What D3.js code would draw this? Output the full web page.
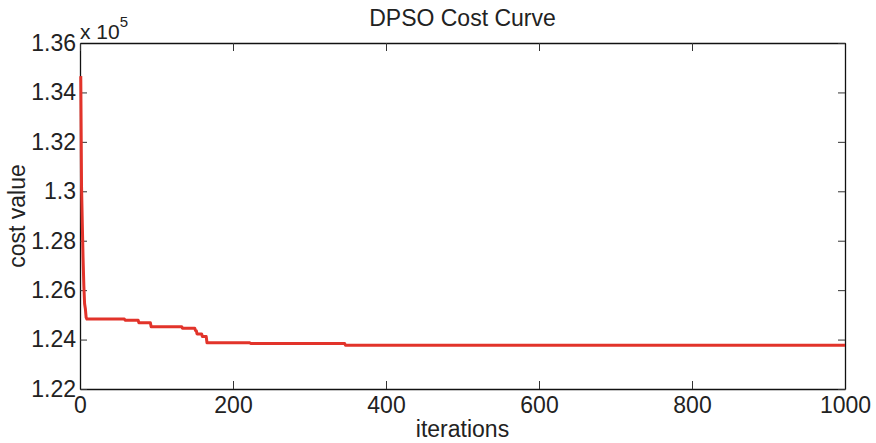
<!DOCTYPE html>
<html>
<head>
<meta charset="utf-8">
<script src="https://cdn.jsdelivr.net/npm/d3@7"></script>
<style>
  body { margin: 0; background: #fff; }
  text { font-family: "Liberation Sans", Arial, Helvetica, sans-serif; fill: #222; }
</style>
</head>
<body>
<div id="chart"></div>
<script>
var svgWidth = 876;
var svgHeight = 443;

var margin = { top: 43, right: 31, bottom: 54, left: 80 };
var width = svgWidth - margin.left - margin.right;
var height = svgHeight - margin.top - margin.bottom;

// data (change points of the best cost)
var iterations = [1, 2, 3, 4, 5, 6, 7, 8, 9,
  58, 59, 76, 77, 92, 93, 133, 134, 150, 151, 152, 153,
  159, 160, 165, 166, 222, 223, 346, 347, 1000];
var costs = [134660, 130200, 128700, 127300, 126200, 125450, 125250, 124900, 124830,
  124830, 124780, 124780, 124680, 124680, 124520, 124520, 124460, 124460, 124360, 124360, 124230,
  124230, 124120, 124120, 123870, 123870, 123840, 123840, 123770, 123770];

var xTicks = [0, 200, 400, 600, 800, 1000];
var yTicks = [122000, 124000, 126000, 128000, 130000, 132000, 134000, 136000];

var svg = d3.select("#chart")
  .append("svg")
  .attr("width", svgWidth)
  .attr("height", svgHeight);

var chartGroup = svg.append("g")
  .attr("transform", `translate(${margin.left}, ${margin.top})`);

var xScale = d3.scaleLinear().domain([0, 1000]).range([0, width]);
var yScale = d3.scaleLinear().domain([122000, 136000]).range([height, 0]);

var fmt = function(d) { return d3.format(".3~f")(d / 1e5); };

// axes: ticks point inward, box drawn on all four sides
var bottomAxis = d3.axisBottom(xScale).tickValues(xTicks).tickFormat(d3.format("d"))
  .tickSizeInner(-8).tickSizeOuter(0).tickPadding(8);
var leftAxis = d3.axisLeft(yScale).tickValues(yTicks).tickFormat(fmt)
  .tickSizeInner(-7).tickSizeOuter(0).tickPadding(4);
var topAxis = d3.axisTop(xScale).tickValues(xTicks).tickSizeInner(-8).tickSizeOuter(0).tickFormat("");
var rightAxis = d3.axisRight(yScale).tickValues(yTicks).tickSizeInner(-7).tickSizeOuter(0).tickFormat("");

function styleAxis(g) {
  g.select(".domain").attr("stroke", "#111").attr("stroke-width", 1.3);
  g.selectAll(".tick line").attr("stroke", "#333");
  g.selectAll(".tick text").attr("font-size", 23).attr("fill", "#222")
    .style("font-family", "'Liberation Sans', Arial, sans-serif");
}

chartGroup.append("g").attr("transform", `translate(0, ${height})`).call(bottomAxis).call(styleAxis);
chartGroup.append("g").call(leftAxis).call(styleAxis);
chartGroup.append("g").call(topAxis).call(styleAxis);
chartGroup.append("g").attr("transform", `translate(${width}, 0)`).call(rightAxis).call(styleAxis);

// cost curve
var line = d3.line()
  .x(function(d, i) { return xScale(iterations[i]); })
  .y(function(d) { return yScale(d); });

chartGroup.append("path")
  .datum(costs)
  .attr("fill", "none")
  .attr("stroke", "#e2332a")
  .attr("stroke-width", 3)
  .attr("stroke-linejoin", "round")
  .attr("d", line);

// labels
svg.append("text")
  .attr("x", margin.left + width / 2)
  .attr("y", 26)
  .attr("text-anchor", "middle")
  .attr("font-size", 23)
  .text("DPSO Cost Curve");

svg.append("text")
  .attr("x", margin.left + width / 2)
  .attr("y", 437)
  .attr("text-anchor", "middle")
  .attr("font-size", 23)
  .text("iterations");

svg.append("text")
  .attr("transform", `translate(25, ${margin.top + height / 2}) rotate(-90)`)
  .attr("text-anchor", "middle")
  .attr("font-size", 23)
  .text("cost value");

// exponent
var expo = svg.append("text")
  .attr("x", 80)
  .attr("y", 39)
  .attr("font-size", 21);
expo.append("tspan").text("x 10");
expo.append("tspan").attr("dy", -12).attr("font-size", 15).text("5");
</script>
</body>
</html>
